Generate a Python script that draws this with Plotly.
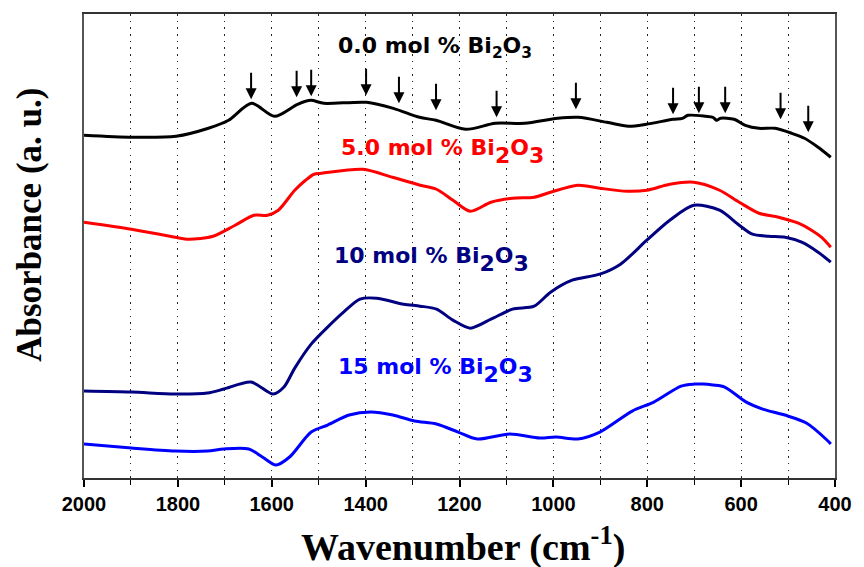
import plotly.graph_objects as go

# ---------------- data (wavenumber in cm^-1, absorbance in arbitrary units) ----------------
wn_00 = [2000, 1897, 1804, 1735, 1692, 1643, 1594, 1545, 1517, 1489, 1398, 1341, 1285, 1250,
         1187, 1124, 1061, 991, 947, 886, 840, 802, 745, 725, 713, 675, 660, 652, 644, 615,
         591, 562, 528, 492, 465, 436, 409]
ab_00 = [3.43, 3.41, 3.42, 3.50, 3.58, 3.75, 3.62, 3.74, 3.78, 3.75, 3.76, 3.70, 3.61, 3.58,
         3.49, 3.55, 3.55, 3.60, 3.61, 3.56, 3.52, 3.54, 3.59, 3.60, 3.63, 3.62, 3.61, 3.58,
         3.60, 3.59, 3.53, 3.50, 3.50, 3.45, 3.40, 3.31, 3.21]

wn_05 = [2000, 1899, 1806, 1777, 1725, 1678, 1638, 1609, 1586, 1551, 1528, 1510, 1493, 1406,
         1343, 1284, 1249, 1214, 1177, 1133, 1087, 1041, 1006, 948, 901, 843, 801, 752, 701,
         646, 604, 562, 520, 478, 450, 429, 409]
ab_05 = [2.56, 2.49, 2.41, 2.39, 2.42, 2.53, 2.63, 2.63, 2.68, 2.88, 2.98, 3.04, 3.05, 3.09,
         3.01, 2.93, 2.89, 2.78, 2.67, 2.76, 2.80, 2.81, 2.86, 2.93, 2.90, 2.87, 2.88, 2.94,
         2.96, 2.88, 2.76, 2.65, 2.61, 2.55, 2.48, 2.41, 2.31]

wn_10 = [2000, 1899, 1806, 1737, 1702, 1644, 1597, 1574, 1551, 1516, 1481, 1447, 1412, 1377,
         1319, 1284, 1249, 1214, 1177, 1133, 1087, 1041, 1006, 960, 901, 857, 801, 752, 701,
         646, 604, 576, 541, 506, 471, 436, 409]
ab_10 = [0.87, 0.86, 0.84, 0.85, 0.89, 0.96, 0.84, 0.91, 1.10, 1.34, 1.51, 1.66, 1.79, 1.80,
         1.74, 1.72, 1.69, 1.58, 1.50, 1.59, 1.69, 1.72, 1.86, 1.98, 2.04, 2.14, 2.38, 2.58,
         2.73, 2.68, 2.53, 2.44, 2.42, 2.41, 2.36, 2.26, 2.16]

wn_15 = [2000, 1899, 1806, 1737, 1702, 1649, 1620, 1591, 1562, 1516, 1481, 1435, 1389, 1342,
         1296, 1249, 1203, 1162, 1093, 1029, 994, 948, 901, 832, 786, 728, 700, 682, 660, 635,
         589, 554, 507, 461, 415, 409]
ab_15 = [0.34, 0.30, 0.27, 0.27, 0.29, 0.29, 0.21, 0.13, 0.21, 0.46, 0.53, 0.63, 0.66, 0.63,
         0.57, 0.54, 0.46, 0.39, 0.44, 0.40, 0.41, 0.39, 0.46, 0.67, 0.76, 0.92, 0.94, 0.94,
         0.93, 0.91, 0.76, 0.69, 0.63, 0.55, 0.37, 0.34]

# band positions marked with arrows on the 0.0 mol % spectrum, and the arrow tip heights
band_wn = [1644, 1547, 1516, 1399, 1329, 1250, 1121, 952, 745, 690, 634, 516, 457]
band_tip = [3.79, 3.81, 3.82, 3.83, 3.75, 3.68, 3.61, 3.69, 3.64, 3.65, 3.65, 3.59, 3.46]

series_names = ["0.0 mol % Bi₂O₃", "5.0 mol % Bi₂O₃", "10 mol % Bi₂O₃", "15 mol % Bi₂O₃"]
series_colors = ["#000000", "#FF0000", "#000080", "#0000FF"]


def big_sub(d):
    return "<sub><sub><span style='font-size:22px'>" + d + "</span></sub></sub>"


label_texts = [
    "<b>0.0 mol % Bi<sub>2</sub>O<sub>3</sub></b>",
    "<b>5.0 mol % Bi" + big_sub("2") + "O" + big_sub("3") + "</b>",
    "<b>10 mol % Bi" + big_sub("2") + "O" + big_sub("3") + "</b>",
    "<b>15 mol % Bi" + big_sub("2") + "O" + big_sub("3") + "</b>",
]
label_wn = [1463, 1457, 1471, 1463]
label_y = [4.31, 3.27, 2.19, 1.08]

tick_vals = [2000, 1800, 1600, 1400, 1200, 1000, 800, 600, 400]

# ---------------- figure ----------------
fig = go.Figure()
for wn, ab, name, col in zip([wn_00, wn_05, wn_10, wn_15], [ab_00, ab_05, ab_10, ab_15],
                             series_names, series_colors):
    fig.add_trace(go.Scatter(x=wn, y=ab, mode="lines", name=name,
                             line=dict(color=col, width=3, shape="spline", smoothing=0.8),
                             showlegend=False, hoverinfo="skip"))

annotations = []
for w, t in zip(band_wn, band_tip):
    annotations.append(dict(x=w, y=t, xref="x", yref="y", text="", showarrow=True,
                            ax=0, ay=-28, arrowhead=2, arrowsize=1.1, arrowwidth=2,
                            arrowcolor="black", standoff=0))

for txt, w, yy, col in zip(label_texts, label_wn, label_y, series_colors):
    annotations.append(dict(x=w, y=yy, xref="x", yref="y", text=txt, showarrow=False,
                            xanchor="left", yanchor="middle",
                            font=dict(family="DejaVu Sans", size=22, color=col)))

annotations.append(dict(x=-0.0737, y=0.545, xref="paper", yref="paper",
                        text="<b>Absorbance (a. u.)</b>", textangle=-90, showarrow=False,
                        xanchor="center", yanchor="middle",
                        font=dict(family="Liberation Serif", size=35, color="black")))
annotations.append(dict(x=0.505, y=-0.144, xref="paper", yref="paper",
                        text="<b>Wavenumber (cm<sup>-1</sup>)</b>", showarrow=False,
                        xanchor="center", yanchor="middle",
                        font=dict(family="Liberation Serif", size=38, color="black")))

grid_dash = "1.5px,5.2px"
fig.update_layout(
    width=864, height=567,
    margin=dict(l=84, r=20, t=13, b=89),
    paper_bgcolor="white", plot_bgcolor="white",
    annotations=annotations,
    xaxis=dict(range=[2000, 400], tickmode="array", tickvals=tick_vals,
               ticktext=[str(v) for v in tick_vals],
               ticks="outside", ticklen=7, tickwidth=1.5, tickcolor="black",
               tickfont=dict(family="Liberation Sans", size=20, color="black", weight="bold"),
               showline=True, linecolor="#333333", linewidth=1.8, mirror=True,
               showgrid=True, gridcolor="#222222", gridwidth=1, griddash=grid_dash,
               zeroline=False,
               minor=dict(dtick=100, tick0=0, ticks="outside", ticklen=5, tickwidth=1.2,
                          tickcolor="black", showgrid=True, gridcolor="#222222",
                          gridwidth=1, griddash=grid_dash)),
    yaxis=dict(range=[0, 4.644], showticklabels=False, ticks="", showgrid=False,
               zeroline=False, showline=True, linecolor="#555555", linewidth=2, mirror=True),
)

fig.write_html("out.html")
